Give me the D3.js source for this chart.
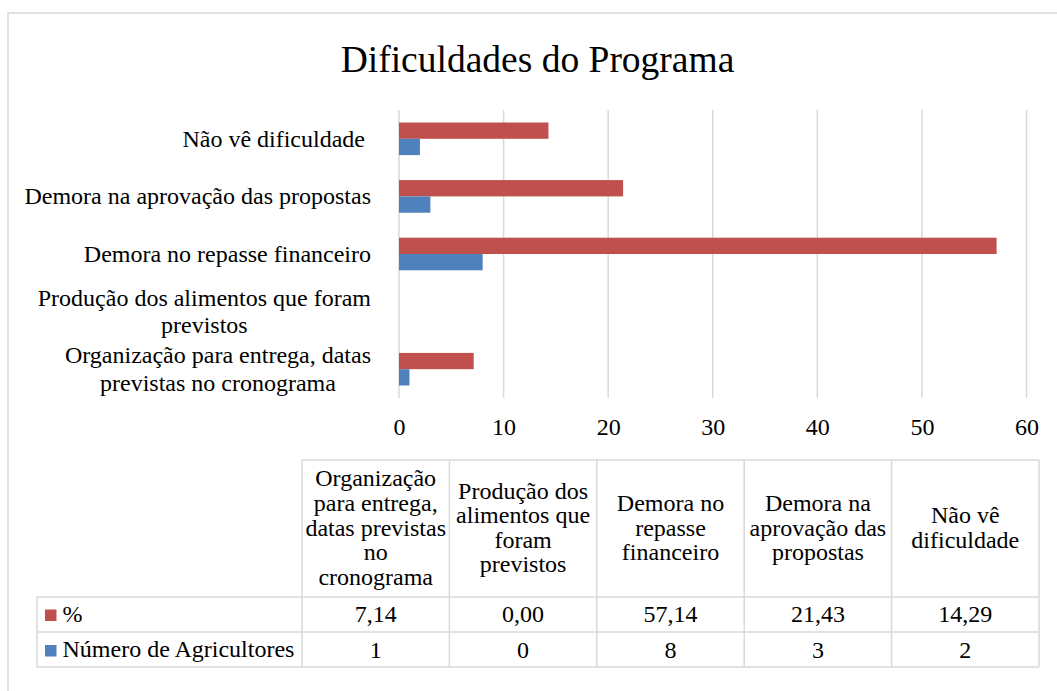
<!DOCTYPE html>
<html>
<head>
<meta charset="utf-8">
<script src="https://cdn.jsdelivr.net/npm/d3@7"></script>
<style>
  html, body { margin: 0; padding: 0; background: #fff; }
  svg { font-family: "Liberation Serif", "DejaVu Serif", serif; }
</style>
</head>
<body>
<div id="chart"></div>
<script>
// data
const categories = ["Organização para entrega, datas previstas no cronograma", "Produção dos alimentos que foram previstos", "Demora no repasse financeiro", "Demora na aprovação das propostas", "Não vê dificuldade"];
const axisLabels = [["Organização para entrega, datas", "previstas no cronograma"], ["Produção dos alimentos que foram", "previstos"], ["Demora no repasse financeiro"], ["Demora na aprovação das propostas"], ["Não vê dificuldade "]];
const headerLabels = [["Organização", "para entrega,", "datas previstas", "no", "cronograma"], ["Produção dos", "alimentos que", "foram", "previstos"], ["Demora no", "repasse", "financeiro"], ["Demora na", "aprovação das", "propostas"], ["Não vê", "dificuldade"]];
const percentValues = [7.14, 0.00, 57.14, 21.43, 14.29];
const farmerValues = [1, 0, 8, 3, 2];
const seriesNames = ["%", "Número de Agricultores"];
const seriesColors = ["#c0504d", "#4f81bd"];
const xTicks = [0, 10, 20, 30, 40, 50, 60];

const width = 1057, height = 691;
const serif = "'Liberation Serif', 'DejaVu Serif', serif";
const ptBR = d3.formatLocale({ decimal: ",", thousands: ".", grouping: [3], currency: ["R$", ""] });
const fmt2 = ptBR.format(".2f");

const svg = d3.select("#chart").append("svg")
  .attr("width", width)
  .attr("height", height)
  .attr("font-family", serif);

// outer frame
svg.append("rect")
  .attr("x", 8).attr("y", 13)
  .attr("width", 1080).attr("height", 700)
  .attr("fill", "none")
  .attr("stroke", "#d9d9d9")
  .attr("stroke-width", 1.5);

// title
svg.append("text")
  .attr("x", 537.5).attr("y", 71.5)
  .attr("text-anchor", "middle")
  .attr("font-family", serif)
  .attr("font-size", 37.5)
  .text("Dificuldades do Programa");

// scales
const x = d3.scaleLinear().domain([0, 60]).range([399, 1026.5]);
const y = d3.scaleBand()
  .domain(d3.range(categories.length))
  .range([398, 110])
  .paddingInner(0.434)
  .paddingOuter(0.217);
const ySub = d3.scaleBand().domain([0, 1]).range([0, y.bandwidth()]);

// gridlines
svg.append("g")
  .selectAll("line")
  .data(xTicks)
  .enter().append("line")
  .attr("x1", d => x(d)).attr("x2", d => x(d))
  .attr("y1", 110).attr("y2", 398)
  .attr("stroke", "#d9d9d9")
  .attr("stroke-width", 1.5);

// x axis labels
const xAxis = svg.append("g")
  .attr("transform", "translate(0,398)")
  .call(d3.axisBottom(x).tickValues(xTicks).tickSize(0).tickPadding(0).tickFormat(d3.format("d")));
xAxis.attr("font-family", serif).attr("font-size", 24);
xAxis.select(".domain").remove();
xAxis.selectAll("text")
  .attr("y", 37)
  .attr("dy", null)
  .attr("fill", "#000");

// bars
const series = [percentValues, farmerValues];
series.forEach((vals, s) => {
  svg.append("g")
    .selectAll("rect")
    .data(vals)
    .enter().append("rect")
    .attr("x", x(0))
    .attr("y", (d, i) => y(i) + ySub(s))
    .attr("width", d => x(d) - x(0))
    .attr("height", ySub.bandwidth())
    .attr("fill", seriesColors[s]);
});

// category labels
const labelRight = 371;
const lineGap = 27.5;
const catG = svg.append("g");
axisLabels.forEach((lines, i) => {
  const cy = y(i) + y.bandwidth() / 2;
  const t = catG.append("text")
    .attr("text-anchor", "middle")
    .attr("font-family", serif)
    .attr("font-size", 24)
    .style("white-space", "pre");
  lines.forEach((ln, k) => {
    t.append("tspan")
      .attr("y", cy + 8 + (k - (lines.length - 1) / 2) * lineGap)
      .text(ln);
  });
  let maxW = 0;
  t.selectAll("tspan").each(function() { maxW = Math.max(maxW, this.getComputedTextLength()); });
  t.selectAll("tspan").attr("x", labelRight - maxW / 2);
});

// data table
const colX = d3.scaleBand().domain(d3.range(categories.length)).range([302, 1039]);
const tableTop = 460, headBottom = 597, row1Bottom = 632, tableBottom = 667, legendLeft = 37;
const tg = svg.append("g").attr("stroke", "#d9d9d9").attr("stroke-width", 1.5);

// horizontal lines
tg.append("line").attr("x1", 302).attr("x2", 1039).attr("y1", tableTop).attr("y2", tableTop);
[headBottom, row1Bottom, tableBottom].forEach(yy => {
  tg.append("line").attr("x1", legendLeft).attr("x2", 1039).attr("y1", yy).attr("y2", yy);
});
// vertical lines
tg.append("line").attr("x1", legendLeft).attr("x2", legendLeft).attr("y1", headBottom).attr("y2", tableBottom);
d3.range(categories.length + 1).forEach(i => {
  const xx = i < categories.length ? colX(i) : colX(categories.length - 1) + colX.bandwidth();
  tg.append("line").attr("x1", xx).attr("x2", xx).attr("y1", tableTop).attr("y2", tableBottom);
});

// header text
const headCy = (tableTop + headBottom) / 2;
headerLabels.forEach((lines, i) => {
  const t = svg.append("text")
    .attr("text-anchor", "middle")
    .attr("font-family", serif)
    .attr("font-size", 24);
  lines.forEach((ln, k) => {
    t.append("tspan")
      .attr("x", colX(i) + colX.bandwidth() / 2)
      .attr("y", headCy + 7 + (k - (lines.length - 1) / 2) * 24.6)
      .text(ln);
  });
});

// values rows
const rowBase = [622, 657.5];
const rowFmt = [fmt2, d3.format("d")];
series.forEach((vals, s) => {
  svg.append("g")
    .selectAll("text")
    .data(vals)
    .enter().append("text")
    .attr("x", (d, i) => colX(i) + colX.bandwidth() / 2)
    .attr("y", rowBase[s])
    .attr("text-anchor", "middle")
    .attr("font-family", serif)
    .attr("font-size", 24)
    .text(d => rowFmt[s](d));

  // legend keys
  svg.append("rect")
    .attr("x", 45).attr("y", rowBase[s] - 12.5)
    .attr("width", 11.5).attr("height", 11.5)
    .attr("fill", seriesColors[s]);
  svg.append("text")
    .attr("x", 62.5).attr("y", rowBase[s] - (s === 1 ? 1 : 0))
    .attr("font-family", serif)
    .attr("font-size", 24)
    .text(seriesNames[s]);
});
</script>
</body>
</html>
